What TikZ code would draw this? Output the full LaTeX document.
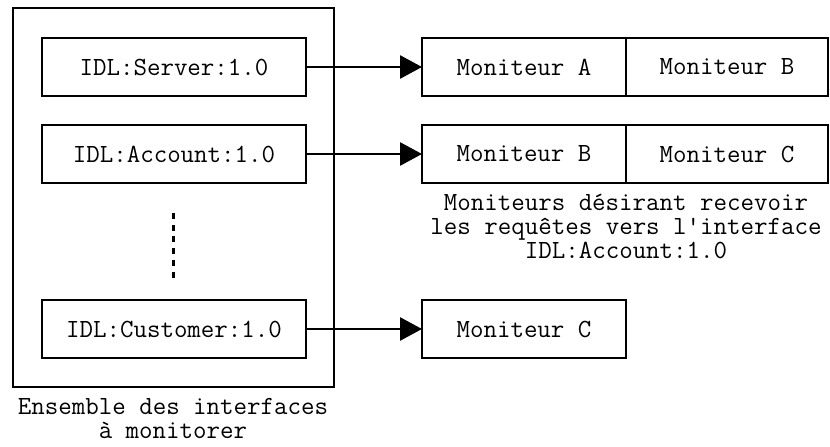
\documentclass[tikz,border=0pt]{standalone}
\usepackage{fontspec}
\usetikzlibrary{arrows.meta}
\begin{document}
\begin{tikzpicture}[x=1pt,y=-1pt,
  every node/.style={font=\ttfamily\fontsize{26.2}{24}\selectfont},
  box/.style={draw,line width=2.8pt,minimum height=58pt,inner sep=0pt,outer sep=0pt},
  ibox/.style={box,minimum width=264pt},
  mbox/.style={box,minimum width=204pt},
  link/.style={line width=2.8pt,-{Triangle[length=22pt,width=23pt]}},
  caption/.style={align=center,inner sep=0pt}]
\useasboundingbox (0,0) rectangle (830,447);

% set of monitored interfaces
\node[draw,line width=2.8pt,minimum width=321pt,minimum height=379pt,inner sep=0pt] (ens) at (173.5,197.5) {};
\node[ibox] (srv) at (174,67) {IDL:Server:1.0};
\node[ibox] (acc) at (174,154) {IDL:Account:1.0};
\node[ibox] (cus) at (174,329) {IDL:Customer:1.0};
\coordinate (d1) at (173,213);
\coordinate (d2) at (173,280);
\draw[line width=3pt,dash pattern=on 6pt off 5.7pt] (d1) -- (d2);
\node[caption] (enscap) at (173,418.5) {Ensemble des interfaces\\à monitorer};

% monitors registered per interface
\node[mbox] (mA) at (524,67) {Moniteur A};
\node[mbox,minimum width=202pt] (mB1) at (727,67) {Moniteur B};
\node[mbox] (mB2) at (524,154) {Moniteur B};
\node[mbox,minimum width=202pt] (mC1) at (727,154) {Moniteur C};
\node[mbox] (mC2) at (524,329) {Moniteur C};
\node[caption] (acccap) at (626,226) {Moniteurs désirant recevoir\\les requêtes vers l\textquotesingle interface\\IDL:Account:1.0};

\draw[link] (srv.east) -- (mA.west);
\draw[link] (acc.east) -- (mB2.west);
\draw[link] (cus.east) -- (mC2.west);
\end{tikzpicture}
\end{document}
